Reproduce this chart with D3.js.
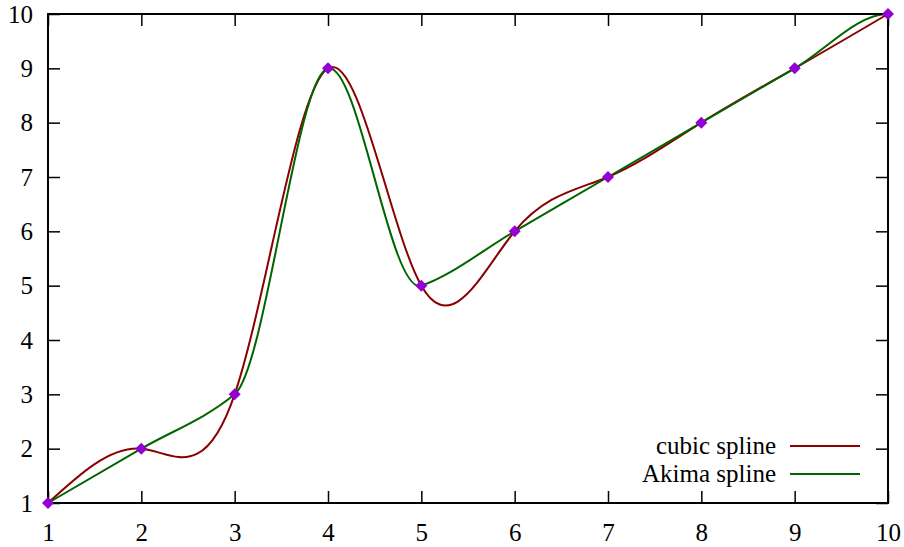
<!DOCTYPE html>
<html>
<head>
<meta charset="utf-8">
<script src="https://cdn.jsdelivr.net/npm/d3@7"></script>
<style>
  body { margin: 0; background: #fff; }
  svg text { font-family: "Liberation Serif", "Times New Roman", "DejaVu Serif", "Noto Serif", serif; }
</style>
</head>
<body>
<div id="chart"></div>
<script>
// spline comparison chart

const FRAME_WIDTH = 904;
const FRAME_HEIGHT = 547;
const MARGINS = {left: 48, right: 16, top: 14, bottom: 44};

const VIS_WIDTH = FRAME_WIDTH - MARGINS.left - MARGINS.right;
const VIS_HEIGHT = FRAME_HEIGHT - MARGINS.top - MARGINS.bottom;

const FONT = '"Liberation Serif", "Times New Roman", "DejaVu Serif", "Noto Serif", serif';

// data
const X_VALUES = [1, 2, 3, 4, 5, 6, 7, 8, 9, 10];
const Y_VALUES = [1, 2, 3, 9, 5, 6, 7, 8, 9, 10];
const X_TICKS = [1, 2, 3, 4, 5, 6, 7, 8, 9, 10];
const Y_TICKS = [1, 2, 3, 4, 5, 6, 7, 8, 9, 10];
const SERIES_NAMES = ['cubic spline', 'Akima spline'];
const SERIES_COLORS = ['#8b0000', '#006400'];

const points = X_VALUES.map((x, i) => ({x: x, y: Y_VALUES[i]}));

// modified akima tangents (start extrapolated linearly, end with zero slopes)
function akimaTangents(px, py) {
  const n = px.length;
  const m = {};
  for (let i = 0; i < n - 1; i++) m[i] = (py[i + 1] - py[i]) / (px[i + 1] - px[i]);
  m[-1] = 2 * m[0] - m[1];
  m[-2] = 2 * m[-1] - m[0];
  m[n - 1] = 0;
  m[n] = 0;
  const t = [];
  for (let i = 0; i < n; i++) {
    const w1 = Math.abs(m[i + 1] - m[i]) + Math.abs(m[i + 1] + m[i]) / 2;
    const w2 = Math.abs(m[i - 1] - m[i - 2]) + Math.abs(m[i - 1] + m[i - 2]) / 2;
    if (w1 + w2 === 0) t.push((m[i - 1] + m[i]) / 2);
    else t.push((w1 * m[i - 1] + w2 * m[i]) / (w1 + w2));
  }
  return t;
}

// custom d3 curve: hermite segments with akima tangents
function curveAkima(context) {
  let xs, ys;
  return {
    lineStart() { xs = []; ys = []; },
    point(x, y) { xs.push(+x); ys.push(+y); },
    lineEnd() {
      const t = akimaTangents(xs, ys);
      context.moveTo(xs[0], ys[0]);
      for (let i = 0; i < xs.length - 1; i++) {
        const h = (xs[i + 1] - xs[i]) / 3;
        context.bezierCurveTo(xs[i] + h, ys[i] + t[i] * h,
                              xs[i + 1] - h, ys[i + 1] - t[i + 1] * h,
                              xs[i + 1], ys[i + 1]);
      }
    },
    areaStart() {}, areaEnd() {}
  };
}

const svg = d3.select('#chart')
  .append('svg')
    .attr('width', FRAME_WIDTH)
    .attr('height', FRAME_HEIGHT)
    .style('font-family', FONT);

const xscale = d3.scaleLinear().domain([1, 10]).range([0, VIS_WIDTH]);
const yscale = d3.scaleLinear().domain([1, 10]).range([VIS_HEIGHT, 0]);

const g = svg.append('g')
  .attr('transform', 'translate(' + MARGINS.left + ',' + MARGINS.top + ')');

// axes with inward ticks on all sides
const TICK = 12;
function styleAxis(sel) {
  sel.attr('font-family', null);
  sel.select('.domain').remove();
  sel.selectAll('line').attr('stroke', '#000').attr('stroke-width', 1.5);
  sel.selectAll('text')
    .style('font-family', FONT)
    .attr('font-size', '25px')
    .attr('fill', '#000');
}

g.append('g')
  .attr('transform', 'translate(0,' + VIS_HEIGHT + ')')
  .call(d3.axisBottom(xscale).tickValues(X_TICKS).tickSize(-TICK).tickPadding(20).tickFormat(d3.format('d')))
  .call(styleAxis);

g.append('g')
  .call(d3.axisTop(xscale).tickValues(X_TICKS).tickSize(-TICK).tickFormat(''))
  .call(styleAxis);

g.append('g')
  .call(d3.axisLeft(yscale).tickValues(Y_TICKS).tickSize(-TICK).tickPadding(15).tickFormat(d3.format('d')))
  .call(styleAxis);

g.append('g')
  .attr('transform', 'translate(' + VIS_WIDTH + ',0)')
  .call(d3.axisRight(yscale).tickValues(Y_TICKS).tickSize(-TICK).tickFormat(''))
  .call(styleAxis);

// curves
const cubicLine = d3.line()
  .x(d => xscale(d.x))
  .y(d => yscale(d.y))
  .curve(d3.curveNatural);

const akimaLine = d3.line()
  .x(d => xscale(d.x))
  .y(d => yscale(d.y))
  .curve(curveAkima);

g.append('path')
  .datum(points)
  .attr('d', cubicLine)
  .attr('fill', 'none')
  .attr('stroke', SERIES_COLORS[0])
  .attr('stroke-width', 2);

g.append('path')
  .datum(points)
  .attr('d', akimaLine)
  .attr('fill', 'none')
  .attr('stroke', SERIES_COLORS[1])
  .attr('stroke-width', 2);

// frame
g.append('rect')
  .attr('width', VIS_WIDTH)
  .attr('height', VIS_HEIGHT)
  .attr('fill', 'none')
  .attr('stroke', '#000')
  .attr('stroke-width', 2);

// markers
g.selectAll('.pt')
  .data(points)
  .enter()
  .append('path')
    .attr('class', 'pt')
    .attr('d', d3.symbol(d3.symbolSquare, 72))
    .attr('transform', d => 'translate(' + xscale(d.x) + ',' + yscale(d.y) + ') rotate(45)')
    .attr('fill', '#9400d3');

// legend
const legend = g.append('g')
  .attr('transform', 'translate(' + (VIS_WIDTH - 112) + ',' + (VIS_HEIGHT - 57) + ')');

SERIES_NAMES.forEach((name, i) => {
  const row = legend.append('g').attr('transform', 'translate(0,' + (i * 28) + ')');
  row.append('text')
    .attr('x', 0)
    .attr('y', 0)
    .attr('dy', '0.33em')
    .attr('text-anchor', 'end')
    .attr('font-size', '25px')
    .style('font-family', FONT)
    .text(name);
  row.append('line')
    .attr('x1', 14)
    .attr('x2', 84)
    .attr('y1', 0)
    .attr('y2', 0)
    .attr('stroke', SERIES_COLORS[i])
    .attr('stroke-width', 2);
});
</script>
</body>
</html>
